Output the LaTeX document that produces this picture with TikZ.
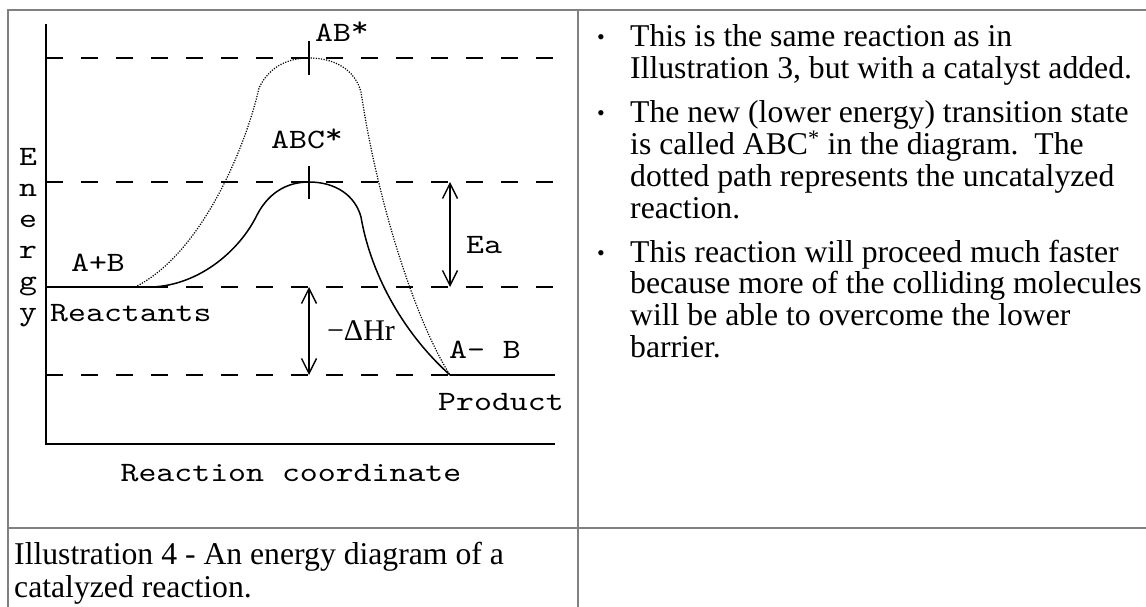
\documentclass[tikz,border=0pt]{standalone}
\usepackage{fontspec}
\setmainfont{Liberation Serif}
\newfontfamily\cour{lmmono10-regular}[Extension=.otf, FakeStretch=1.22]
\usetikzlibrary{arrows.meta}
\newcommand\hiast{\raisebox{5pt}{*}}
\begin{document}
\begin{tikzpicture}[x=1pt,y=-1pt,
  frame/.style={draw=black!50, line width=2pt},
  axis/.style={line width=1.5pt},
  lvl/.style={line width=1.5pt, dash pattern=on 17pt off 18pt},
  solidpath/.style={line width=1.5pt},
  dotpath/.style={line width=1.2pt, dash pattern=on 1.2pt off 1.4pt},
  lbl/.style={font=\cour\fontsize{28}{32}\selectfont, inner sep=0pt, anchor=base},
  txt/.style={font=\fontsize{31.7}{36}\selectfont, inner sep=0pt, anchor=base west},
  bul/.style={font=\fontsize{22}{22}\selectfont, inner sep=0pt, anchor=base west},
  dim/.style={line width=1.4pt, {Straight Barb[length=15pt,width=15pt]}-{Straight Barb[length=15pt,width=15pt]}},
]
\useasboundingbox (0,0) rectangle (1146,607);
% table frame
\draw[frame] (8,607) -- (8,10) -- (1146,10);
\draw[frame] (578,10) -- (578,607);
\draw[frame] (8,528) -- (1146,528);

% key points
\coordinate (ytop) at (46,24);
\coordinate (org) at (46,444);
\coordinate (xend) at (555,444);
\coordinate (peakAB) at (309,58);
\coordinate (peakABC) at (309,182);
\coordinate (react) at (309,287);
\coordinate (prod) at (309,375);
\coordinate (eatop) at (450,182);
\coordinate (eabot) at (450,287);

% axes
\draw[axis] (ytop) -- (org) -- (xend);
% energy levels
\draw[lvl] (46,58) -- (555,58);
\draw[lvl] (46,182) -- (555,182);
\draw[lvl] (46,287) -- (555,287);
\draw[lvl] (46,375) -- (555,375);
\draw[solidpath] (46,287) -- (152,287);
\draw[solidpath] (450,375) -- (555,375);

% uncatalyzed (dotted)
\draw[dotpath] (135,287) .. controls (200,255) and (245,150) .. (259,88)
  .. controls (270,65) and (290,58) .. (309,58)
  .. controls (335,58) and (355,70) .. (361,92)
  .. controls (377,200) and (415,320) .. (450,375);
% catalyzed (solid)
\draw[solidpath] (152,287) .. controls (200,285) and (240,250) .. (257,215)
  .. controls (270,190) and (290,182) .. (309,182)
  .. controls (335,182) and (355,195) .. (361,217)
  .. controls (370,270) and (400,330) .. (450,375);

% ticks
\draw[axis] ([yshift=-17pt]peakAB) -- ([yshift=17pt]peakAB);
\draw[axis] ([yshift=-17pt]peakABC) -- ([yshift=16pt]peakABC);

% dimension arrows
\draw[dim] (eatop) -- (eabot);
\draw[dim] (react) -- (prod);

% labels
\node[lbl] (ab) at (342,42) {AB\hiast};
\node[lbl] (abc) at (307,149) {ABC\hiast};
\node[lbl] (ea) at (484,253) {Ea};
\node[lbl] (apb) at (98,271) {A+B};
\node[lbl, anchor=base west] (reac) at (50,321) {Reactants};
\node[font=\fontsize{30}{32}\selectfont, inner sep=0pt, anchor=base] (dh) at (361,340) {−ΔHr};
\node[lbl] (amb) at (485,358) {A- B};
\node[lbl] (prd) at (501,410) {Product};
\node[lbl] (rc) at (291,481) {Reaction coordinate};
\node[lbl] (e1) at (28,165) {E};
\node[lbl] (e2) at (28,196) {n};
\node[lbl] (e3) at (28,227) {e};
\node[lbl] (e4) at (28,258) {r};
\node[lbl] (e5) at (28,289) {g};
\node[lbl] (e6) at (28,320) {y};

% right column
\node[bul] (b1) at (597,45) {•};
\node[txt] (t1) at (630,47) {This is the same reaction as in};
\node[txt] (t2) at (630,79) {Illustration 3, but with a catalyst added.};
\node[bul] (b2) at (597,121) {•};
\node[txt] (t3) at (630,123) {The new (lower energy) transition state};
\node[txt] (t4) at (630,155) {is called ABC\textsuperscript{*} in the diagram.\ \ The};
\node[txt] (t5) at (630,186) {dotted path represents the uncatalyzed};
\node[txt] (t6) at (630,218) {reaction.};
\node[bul] (b3) at (597,260) {•};
\node[txt] (t7) at (630,262) {This reaction will proceed much faster};
\node[txt] (t8) at (630,293) {because more of the colliding molecules};
\node[txt] (t9) at (630,325) {will be able to overcome the lower};
\node[txt] (t10) at (630,357) {barrier.};

% caption
\node[txt] (c1) at (14,564) {Illustration 4 - An energy diagram of a};
\node[txt] (c2) at (14,597) {catalyzed reaction.};
\end{tikzpicture}
\end{document}
